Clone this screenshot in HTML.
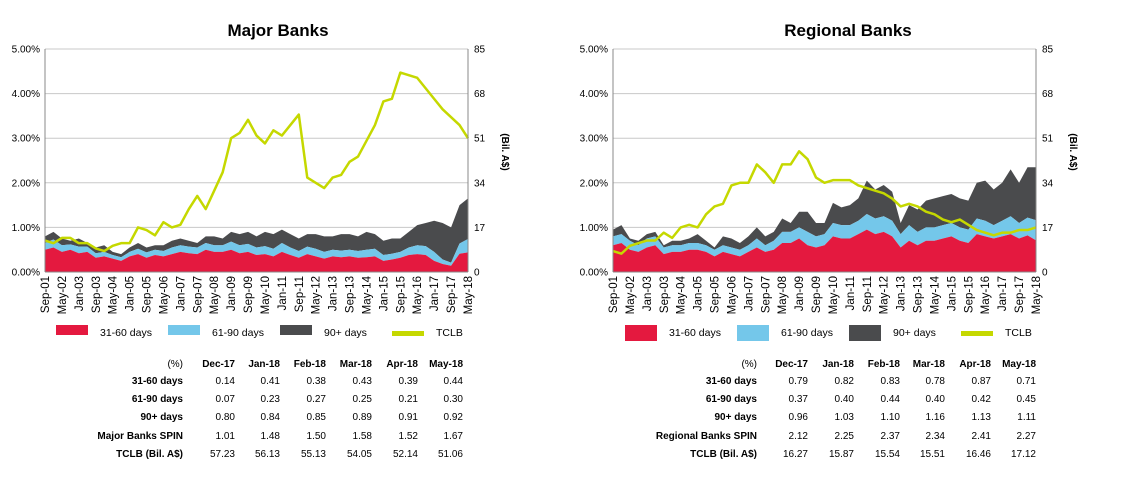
<!DOCTYPE html>
<html><head><meta charset="utf-8">
<style>
body{margin:0;background:#fff;width:1121px;height:480px;overflow:hidden;font-family:"Liberation Sans",Arial,sans-serif;}
svg{position:absolute;left:0;top:0}
text{font-family:"Liberation Sans",Arial,sans-serif;}
</style></head>
<body>
<svg id="s" width="1121" height="480"></svg>
<script>
const dateLabels=["Sep-01","May-02","Jan-03","Sep-03","May-04","Jan-05","Sep-05","May-06","Jan-07","Sep-07","May-08","Jan-09","Sep-09","May-10","Jan-11","Sep-11","May-12","Jan-13","Sep-13","May-14","Jan-15","Sep-15","May-16","Jan-17","Sep-17","May-18"];
const leftTicks=["0.00%","1.00%","2.00%","3.00%","4.00%","5.00%"];
const rightTicks=["0","17","34","51","68","85"];
// Major banks (4-monthly points Sep-01 .. May-18)
const majorRed=[0.5,0.55,0.45,0.5,0.42,0.45,0.32,0.35,0.3,0.25,0.35,0.4,0.32,0.38,0.35,0.4,0.45,0.42,0.4,0.5,0.45,0.45,0.5,0.42,0.45,0.38,0.4,0.35,0.45,0.38,0.32,0.4,0.35,0.3,0.35,0.33,0.35,0.32,0.33,0.35,0.25,0.28,0.32,0.38,0.4,0.38,0.25,0.18,0.14,0.41,0.44];
const majorBlue=[0.15,0.18,0.15,0.12,0.15,0.12,0.1,0.1,0.08,0.08,0.1,0.12,0.12,0.12,0.12,0.15,0.15,0.15,0.15,0.15,0.15,0.15,0.18,0.18,0.18,0.17,0.18,0.17,0.2,0.17,0.15,0.17,0.17,0.15,0.15,0.15,0.15,0.15,0.17,0.17,0.13,0.13,0.13,0.17,0.2,0.2,0.2,0.1,0.07,0.23,0.3];
const majorTop=[0.8,0.9,0.75,0.7,0.75,0.65,0.55,0.6,0.45,0.4,0.55,0.65,0.55,0.6,0.6,0.7,0.75,0.7,0.65,0.8,0.8,0.75,0.9,0.85,0.9,0.8,0.9,0.85,0.95,0.85,0.75,0.85,0.85,0.8,0.8,0.85,0.85,0.8,0.9,0.85,0.7,0.75,0.75,0.9,1.05,1.1,1.15,1.1,1.0,1.5,1.65];
const majorTCLB=[12,11,13,13,11,11,9,8,10,11,11,17,16,14,19,17,18,24,29,24,31,38,51,53,58,52,49,54,52,56,60,36,34,32,36,37,42,44,50,56,65,66,76,75,74,70,66,62,59,56,51];
// Regional banks
const regRed=[0.6,0.65,0.5,0.45,0.55,0.6,0.4,0.45,0.45,0.5,0.5,0.45,0.35,0.45,0.4,0.35,0.45,0.55,0.45,0.5,0.65,0.65,0.75,0.6,0.55,0.6,0.8,0.75,0.75,0.85,0.95,0.85,0.9,0.8,0.55,0.7,0.6,0.7,0.7,0.75,0.8,0.7,0.65,0.85,0.8,0.75,0.8,0.85,0.75,0.82,0.71];
const regBlue=[0.2,0.2,0.2,0.15,0.2,0.2,0.15,0.15,0.15,0.15,0.15,0.15,0.15,0.15,0.15,0.15,0.15,0.2,0.15,0.2,0.25,0.25,0.25,0.3,0.25,0.25,0.3,0.3,0.3,0.3,0.35,0.35,0.35,0.35,0.3,0.35,0.3,0.3,0.3,0.3,0.3,0.3,0.3,0.35,0.35,0.3,0.35,0.4,0.35,0.4,0.45];
const regTop=[0.95,1.05,0.75,0.7,0.85,0.9,0.6,0.7,0.7,0.75,0.85,0.7,0.55,0.8,0.75,0.65,0.8,1.0,0.8,0.9,1.2,1.1,1.35,1.35,1.1,1.1,1.55,1.45,1.5,1.65,2.05,1.85,1.95,1.8,1.1,1.5,1.4,1.6,1.65,1.7,1.75,1.65,1.6,2.0,2.05,1.85,2.0,2.3,2.0,2.35,2.35];
const regTCLB=[8,7,10,11,12,12,15,13,17,18,17,22,25,26,33,34,34,41,38,34,41,41,46,43,36,34,35,35,35,33,32,31,30,28,25,26,25,23,22,20,19,20,18,16,15,14,15,15,16,16,17];
const tblCols=["Dec-17","Jan-18","Feb-18","Mar-18","Apr-18","May-18"];
const majRows=[["31-60 days",["0.14","0.41","0.38","0.43","0.39","0.44"]],["61-90 days",["0.07","0.23","0.27","0.25","0.21","0.30"]],["90+ days",["0.80","0.84","0.85","0.89","0.91","0.92"]],["Major Banks SPIN",["1.01","1.48","1.50","1.58","1.52","1.67"]],["TCLB (Bil. A$)",["57.23","56.13","55.13","54.05","52.14","51.06"]]];
const regRows=[["31-60 days",["0.79","0.82","0.83","0.78","0.87","0.71"]],["61-90 days",["0.37","0.40","0.44","0.40","0.42","0.45"]],["90+ days",["0.96","1.03","1.10","1.16","1.13","1.11"]],["Regional Banks SPIN",["2.12","2.25","2.37","2.34","2.41","2.27"]],["TCLB (Bil. A$)",["16.27","15.87","15.54","15.51","16.46","17.12"]]];

const svg=document.getElementById('s');
const NS='http://www.w3.org/2000/svg';
function el(tag,attrs,parent,txt){const e=document.createElementNS(NS,tag);for(const k in attrs)e.setAttribute(k,attrs[k]);if(txt!==undefined)e.textContent=txt;(parent||svg).appendChild(e);return e;}
const C={red:'#e4193f',blue:'#74c7ea',dark:'#4a4b4d',green:'#c5d800'};

function chart(o){
  const g=el('g',{});
  
  
  const x0=o.x0,x1=o.x1,yT=49,yB=272;
  const n=o.red.length;
  const xs=i=>x0+(x1-x0)*i/(n-1);
  const yp=v=>yB-(yB-yT)*v/5;
  const yb=v=>yB-(yB-yT)*v/85;
  const t=el('text',{x:o.tx,y:36,'text-anchor':'middle','font-size':17,'font-weight':'bold',fill:'#000'},g,o.title);
  
  for(let i=0;i<6;i++){
    const y=yB-(yB-yT)*i/5;
    const gl=el('line',{x1:x0,x2:x1,y1:y,y2:y,stroke:'#c8c8c8','stroke-width':1},g);
    
    const l=el('text',{x:o.lx,y:y+3.5,'text-anchor':'end','font-size':10,fill:'#000'},g,leftTicks[i]);
    
    const r=el('text',{x:x1+6,y:y+3.5,'font-size':10,fill:'#000'},g,rightTicks[i]);
    
  }
  const r1=o.red.map((v)=>v), r2=o.red.map((v,i)=>v+o.blue[i]), r3=o.top.map((v,i)=>Math.max(v,r2[i]));
  function area(lo,hi,col,name){
    let d='M'+xs(0)+','+yp(hi[0]);
    for(let i=1;i<n;i++)d+='L'+xs(i)+','+yp(hi[i]);
    for(let i=n-1;i>=0;i--)d+='L'+xs(i)+','+yp(lo?lo[i]:0);
    const p=el('path',{d:d+'Z',fill:col},g);
    
  }
  area(r2,r3,C.dark,'area-90-plus-days');
  area(r1,r2,C.blue,'area-61-90-days');
  area(null,r1,C.red,'area-31-60-days');
  const pts=o.tclb.map((v,i)=>xs(i)+','+yb(v)).join(' ');
  const pl=el('polyline',{points:pts,fill:'none',stroke:C.green,'stroke-width':2.5,'stroke-linejoin':'round'},g);
  
  el('line',{x1:x0,x2:x0,y1:yT,y2:yB,stroke:'#888','stroke-width':1},g);
  el('line',{x1:x1,x2:x1,y1:yT,y2:yB,stroke:'#888','stroke-width':1},g);
  el('line',{x1:x0,x2:x1,y1:yB,y2:yB,stroke:'#888','stroke-width':1},g);
  dateLabels.forEach((lab,k)=>{
    const x=xs(k*2)+4;
    const tx=el('text',{x:x,y:276,'text-anchor':'end','font-size':11.5,fill:'#000',transform:'rotate(-90 '+x+' 276)'},g,lab);
    
  });
  const ax=o.ax;
  const at=el('text',{x:ax,y:152,'text-anchor':'middle','font-size':10,'font-weight':'bold',fill:'#000',transform:'rotate(90 '+ax+' 152)'},g,'(Bil. A$)');
  
  const lg=[['31-60 days',C.red],['61-90 days',C.blue],['90+ days',C.dark],['TCLB',C.green]];
  lg.forEach((it,k)=>{
    const lx=o.legX+k*112;
    const e=el('g',{},g);
    
    if(k<3)el('rect',{x:lx,y:o.legY,width:32,height:o.legH,fill:it[1]},e);
    else el('rect',{x:lx,y:331,width:32,height:5,fill:it[1]},e);
    el('text',{x:lx+44,y:336,'font-size':10.5,fill:'#000'},e,it[0]);
  });
  const tb=el('g',{},g);
  
  const rowsY=[367,384,402,420,439,457];
  el('text',{x:o.tLab,y:rowsY[0],'text-anchor':'end','font-size':10,fill:'#000'},tb,'(%)');
  tblCols.forEach((c,j)=>el('text',{x:o.tCol[j],y:rowsY[0],'text-anchor':'end','font-size':10,'font-weight':'bold',fill:'#000'},tb,c));
  o.rows.forEach((r,i)=>{
    el('text',{x:o.tLab,y:rowsY[i+1],'text-anchor':'end','font-size':10,'font-weight':'bold',fill:'#000'},tb,r[0]);
    r[1].forEach((v,j)=>el('text',{x:o.tCol[j],y:rowsY[i+1],'text-anchor':'end','font-size':10,fill:'#000'},tb,v));
  });
}
chart({key:'major-banks',title:'Major Banks',tx:278,x0:45,x1:468,lx:40,ax:502,red:majorRed,blue:majorBlue,top:majorTop,tclb:majorTCLB,legX:56,legY:325,legH:10,tLab:183,tCol:[235,280,326,372,418,463],rows:majRows});
chart({key:'regional-banks',title:'Regional Banks',tx:848,x0:613,x1:1036,lx:608,ax:1070,red:regRed,blue:regBlue,top:regTop,tclb:regTCLB,legX:625,legY:325,legH:16,tLab:757,tCol:[808,854,900,945,991,1036],rows:regRows});
</script>
</body></html>
